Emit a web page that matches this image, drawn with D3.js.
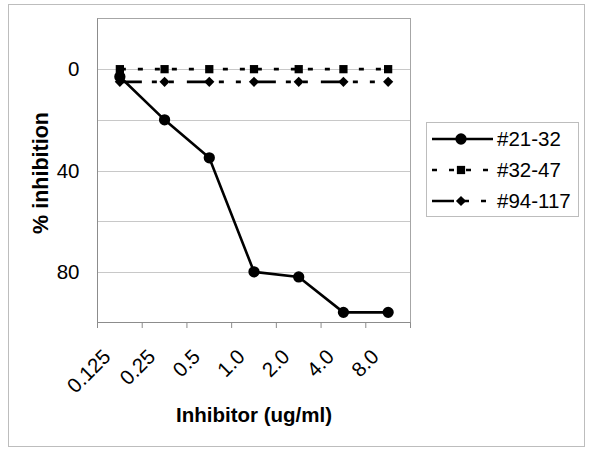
<!DOCTYPE html>
<html>
<head>
<meta charset="utf-8">
<script src="https://cdn.jsdelivr.net/npm/d3@7"></script>
<style>
  body { margin: 0; background: #fff; }
  svg { font-family: "Liberation Sans", Arial, sans-serif; }
</style>
</head>
<body>
<div id="chart"></div>
<script>
'use strict';

// categories and values
let doses = ['0.125', '0.25', '0.5', '1.0', '2.0', '4.0', '8.0'];
let seriesNames = ['#21-32', '#32-47', '#94-117'];
let inh2132 = [3, 20, 35, 80, 82, 96, 96];
let inh3247 = [0, 0, 0, 0, 0, 0, 0];
let inh94117 = [5, 5, 5, 5, 5, 5, 5];
let gridTicks = [0, 20, 40, 60, 80];
let labelTicks = [0, 40, 80];

let svg = d3.select('#chart').append('svg')
	.attr('width', 600)
	.attr('height', 465);

// outer frame
svg.append('rect')
	.attr('x', 8.5).attr('y', 4.5)
	.attr('width', 576).attr('height', 442)
	.attr('fill', 'none')
	.attr('stroke', '#bdbdbd');

let x = d3.scaleBand().domain(doses).range([97.5, 410.5]);
let y = d3.scaleLinear().domain([-20, 100]).range([18.5, 322.5]);
let cx = d => x(d) + x.bandwidth() / 2;

// gridlines
svg.selectAll('line.grid')
	.data(gridTicks)
	.join('line')
	.classed('grid', true)
	.attr('x1', 97.5).attr('x2', 410.5)
	.attr('y1', d => Math.round(y(d)) + 0.5)
	.attr('y2', d => Math.round(y(d)) + 0.5)
	.attr('stroke', '#c8c8c8');

// plot border
svg.append('rect')
	.attr('x', 97.5).attr('y', 18.5)
	.attr('width', 313).attr('height', 304)
	.attr('fill', 'none')
	.attr('stroke', '#a6a6a6');

// axis lines
svg.append('line')
	.attr('x1', 97.5).attr('x2', 97.5).attr('y1', 18.5).attr('y2', 322.5)
	.attr('stroke', '#8c8c8c');
svg.append('line')
	.attr('x1', 97.5).attr('x2', 410.5).attr('y1', 322.5).attr('y2', 322.5)
	.attr('stroke', '#8c8c8c');

// x tick marks at category boundaries
let bounds = doses.map(d => x(d)).concat([x.range()[1]]);
svg.selectAll('line.xtick')
	.data(bounds)
	.join('line')
	.classed('xtick', true)
	.attr('x1', d => d).attr('x2', d => d)
	.attr('y1', 322.5).attr('y2', 328)
	.attr('stroke', '#8c8c8c');

// x labels, rotated
svg.selectAll('text.xlab')
	.data(doses)
	.join('text')
	.classed('xlab', true)
	.attr('transform', d => `translate(${cx(d) - 8},358) rotate(-45)`)
	.attr('text-anchor', 'end')
	.style('font-size', '20.5px')
	.text(d => d);

// y labels
let yAxis = d3.axisLeft(y).tickValues(labelTicks).tickSize(0).tickPadding(18);
let yg = svg.append('g')
	.attr('transform', 'translate(97.5,0)')
	.call(yAxis);
yg.select('.domain').remove();
yg.selectAll('text')
	.style('font-size', '20.5px')
	.style('font-family', '"Liberation Sans", Arial, sans-serif')
	.attr('fill', '#000');

// axis titles
svg.append('text')
	.attr('x', 254).attr('y', 422)
	.attr('text-anchor', 'middle')
	.style('font-size', '20.5px')
	.style('font-weight', 'bold')
	.text('Inhibitor (ug/ml)');

svg.append('text')
	.attr('transform', 'translate(48,173) rotate(-90)')
	.attr('text-anchor', 'middle')
	.style('font-size', '21.5px')
	.style('font-weight', 'bold')
	.text('% inhibition');

let line = d3.line()
	.x(d => cx(d.dose))
	.y(d => y(d.v));

let series = [
	{name: seriesNames[0], values: inh2132, dash: null, marker: 'circle'},
	{name: seriesNames[1], values: inh3247, dash: '5,12', offset: -18, marker: 'square'},
	{name: seriesNames[2], values: inh94117, dash: '22,10,5,12,5,13', offset: 0, marker: 'diamond'}
];

let symbolFor = m => m === 'circle' ? d3.symbol(d3.symbolCircle, 100)
	: d3.symbol(d3.symbolSquare, m === 'square' ? 68 : 52);
let rot = m => m === 'diamond' ? ' rotate(45)' : '';

series.forEach(s => {
	let pts = doses.map((d, i) => ({dose: d, v: s.values[i]}));
	svg.append('path')
		.datum(pts)
		.attr('d', line)
		.attr('fill', 'none')
		.attr('stroke', '#000')
		.attr('stroke-width', 2.6)
		.attr('stroke-dasharray', s.dash)
		.attr('stroke-dashoffset', s.offset || 0);
	svg.selectAll(null)
		.data(pts)
		.join('path')
		.attr('transform', d => `translate(${cx(d.dose)},${y(d.v)})` + rot(s.marker))
		.attr('d', symbolFor(s.marker))
		.attr('fill', '#000');
});

// legend
let legend = svg.append('g');
legend.append('rect')
	.attr('x', 426.5).attr('y', 122.5)
	.attr('width', 152).attr('height', 94)
	.attr('fill', '#fff')
	.attr('stroke', '#bdbdbd');

let legY = d3.scalePoint().domain(seriesNames).range([139, 201]);

series.forEach(s => {
	let ly = legY(s.name);
	legend.append('line')
		.attr('x1', 432).attr('x2', 493)
		.attr('y1', ly).attr('y2', ly)
		.attr('stroke', '#000')
		.attr('stroke-width', 2.6)
		.attr('stroke-dasharray', s.dash)
		.attr('stroke-dashoffset', s.dash ? 0 : null);
	legend.append('path')
		.attr('transform', `translate(461,${ly})` + rot(s.marker))
		.attr('d', symbolFor(s.marker))
		.attr('fill', '#000');
	legend.append('text')
		.attr('x', 497).attr('y', ly + 7)
		.style('font-size', '20.5px')
		.text(s.name);
});
</script>
</body>
</html>
